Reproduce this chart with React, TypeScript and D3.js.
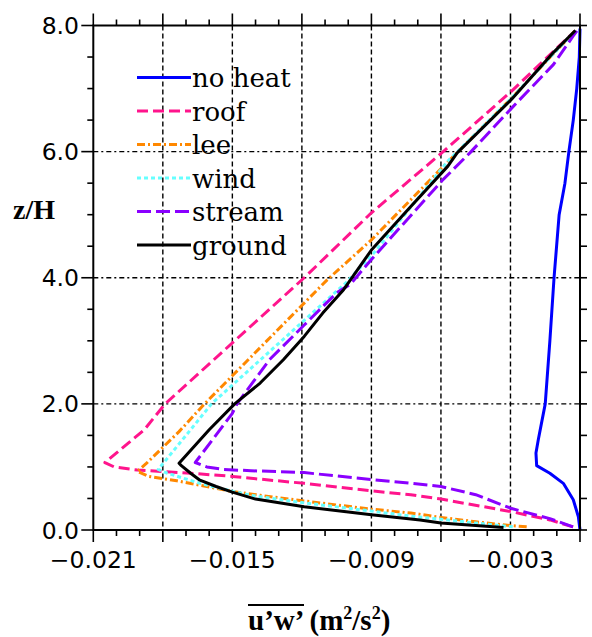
import React from 'react';
import * as d3 from 'd3';

// ---------- data (u'w' in m^2/s^2, z/H) ----------
const seriesNames = ['no heat', 'roof', 'lee', 'wind', 'stream', 'ground'];
const seriesColors = ['#0000ff', '#ff148c', '#ff8800', '#66ffff', '#8a00ff', '#000000'];
const seriesDash = ['', '11,5', '8,3,2,3', '4,3', '14,5', ''];

const xLabelValues = [-0.021, -0.015, -0.009, -0.003];
const xLabelTexts = ['\u22120.021', '\u22120.015', '\u22120.009', '\u22120.003'];
const yLabelValues = [0, 2, 4, 6, 8];
const yLabelTexts = ['0.0', '2.0', '4.0', '6.0', '8.0'];
const xGridValues = [-0.018, -0.015, -0.012, -0.009, -0.006, -0.003];
const yGridValues = [2, 4, 6];

const noHeat: [number, number][] = [
  [0, 0.0], [-0.00007, 0.21], [-0.00029, 0.48], [-0.00072, 0.74], [-0.0013, 0.9],
  [-0.00187, 1.02], [-0.0019, 1.22], [-0.0018, 1.43], [-0.0015, 2.0], [-0.0013, 3.0],
  [-0.00112, 4.0], [-0.0009, 5.0], [-0.00065, 5.5], [-0.00048, 6.0], [-0.00029, 6.5],
  [-0.00014, 7.0], [-0.00003, 7.5], [0, 7.95],
];
const roof: [number, number][] = [
  [-0.0003, 0.05], [-0.0013, 0.16], [-0.00295, 0.29], [-0.006, 0.49], [-0.0073, 0.56],
  [-0.009, 0.62], [-0.0119, 0.74], [-0.0142, 0.82], [-0.015, 0.85], [-0.0168, 0.9],
  [-0.0191, 0.95], [-0.0201, 1.0], [-0.0205, 1.07], [-0.0188, 1.59], [-0.0179, 2.0],
  [-0.0119, 4.0], [-0.009, 5.03], [-0.0059, 6.0], [-0.00295, 6.96], [-0.0002, 7.92],
];
const lee: [number, number][] = [
  [-0.0023, 0.05], [-0.003, 0.07], [-0.0045, 0.13], [-0.006, 0.2], [-0.0073, 0.27],
  [-0.009, 0.33], [-0.0119, 0.46], [-0.0138, 0.55], [-0.015, 0.61], [-0.0161, 0.69],
  [-0.0174, 0.78], [-0.0186, 0.85], [-0.0191, 0.93], [-0.0187, 1.06], [-0.0173, 1.56],
  [-0.0162, 2.0], [-0.0109, 3.97], [-0.009, 4.6], [-0.00575, 5.82], [-0.00295, 6.85],
  [-0.0002, 7.92],
];
const wind: [number, number][] = [
  [-0.0029, 0.05], [-0.0045, 0.11], [-0.006, 0.17], [-0.0073, 0.22], [-0.009, 0.3],
  [-0.0119, 0.43], [-0.0142, 0.55], [-0.0154, 0.65], [-0.0164, 0.74], [-0.0171, 0.82],
  [-0.0178, 0.9], [-0.0182, 0.96], [-0.0168, 1.59], [-0.0159, 2.0], [-0.0101, 3.92],
  [-0.0089, 4.39], [-0.0057, 5.85], [-0.00295, 6.85], [-0.0002, 7.92],
];
const stream: [number, number][] = [
  [-0.0003, 0.05], [-0.0013, 0.18], [-0.00295, 0.34], [-0.0045, 0.56], [-0.006, 0.69],
  [-0.0073, 0.74], [-0.009, 0.8], [-0.0119, 0.91], [-0.0142, 0.94], [-0.0154, 0.96],
  [-0.0161, 1.0], [-0.0166, 1.07], [-0.015, 1.85], [-0.0148, 2.0], [-0.0134, 2.7],
  [-0.0119, 3.25], [-0.0105, 3.76], [-0.0099, 3.9], [-0.009, 4.29], [-0.0059, 5.56],
  [-0.00475, 5.98], [-0.00295, 6.69], [-0.00115, 7.38], [-0.0003, 7.83], [-0.0001, 7.93],
];
const ground: [number, number][] = [
  [-0.0033, 0.04], [-0.0045, 0.07], [-0.006, 0.11], [-0.0069, 0.16], [-0.009, 0.24],
  [-0.0119, 0.37], [-0.014, 0.49], [-0.015, 0.6], [-0.0157, 0.69], [-0.0164, 0.79],
  [-0.0168, 0.9], [-0.0172, 1.02], [-0.0173, 1.06], [-0.016, 1.59], [-0.0149, 2.0],
  [-0.0138, 2.33], [-0.0128, 2.7], [-0.0119, 3.07], [-0.0111, 3.44], [-0.0102, 3.81],
  [-0.009, 4.44], [-0.0073, 5.13], [-0.0057, 5.77], [-0.0053, 5.98], [-0.00295, 6.83],
  [-0.00115, 7.57], [-0.0002, 7.92],
];
const seriesData = [noHeat, roof, lee, wind, stream, ground];

// ---------- layout ----------
const W = 592, H = 637;
const L = 93.3, R = 580, T = 25.5, B = 530;

export default function App() {
  const x = d3.scaleLinear().domain([-0.021, 0]).range([L, R]);
  const y = d3.scaleLinear().domain([0, 8]).range([B, T]);
  const line = d3.line<[number, number]>().x(d => x(d[0])).y(d => y(d[1]));

  const xMinor = d3.range(0, 22).map(i => -0.021 + i * 0.001);
  const yMinor = d3.range(0, 17).map(i => i * 0.5);
  const isXMajor = (v: number) => Math.abs(Math.round(v * 1000) % 3) === 0;
  const isYMajor = (v: number) => Math.abs(v % 2) < 1e-9;

  const legX0 = 137, legX1 = 191, legY0 = 77.5, legDY = 33.5;

  return (
    <svg width={W} height={H} style={{ position: 'absolute', left: 0, top: 0, background: '#fff' }}>
      {/* gridlines */}
      {xGridValues.map((v, i) => (
        <line key={'gx' + i} x1={x(v)} x2={x(v)} y1={T} y2={B} stroke="#000" strokeWidth={1.4} strokeDasharray="5,3" />
      ))}
      {yGridValues.map((v, i) => (
        <line key={'gy' + i} x1={L} x2={R} y1={y(v)} y2={y(v)} stroke="#000" strokeWidth={1.4} strokeDasharray="5,3,2,3" />
      ))}

      {/* curves */}
      {seriesData.map((d, i) => (
        <path key={'s' + i} d={line(d) || ''} fill="none" stroke={seriesColors[i]} strokeWidth={3}
          strokeDasharray={seriesDash[i] || undefined} strokeLinejoin="round" />
      ))}

      {/* frame */}
      <rect x={L} y={T} width={R - L} height={B - T} fill="none" stroke="#000" strokeWidth={2} />

      {/* x ticks (top & bottom, outward) */}
      {xMinor.map((v, i) => {
        const len = isXMajor(v) ? 12 : 6;
        return (
          <g key={'xt' + i}>
            <line x1={x(v)} x2={x(v)} y1={B} y2={B + len} stroke="#000" strokeWidth={1.6} />
            <line x1={x(v)} x2={x(v)} y1={T} y2={T - len} stroke="#000" strokeWidth={1.6} />
          </g>
        );
      })}
      {/* y ticks (left & right, outward) */}
      {yMinor.map((v, i) => {
        const len = isYMajor(v) ? 12 : 6;
        return (
          <g key={'yt' + i}>
            <line x1={L} x2={L - len} y1={y(v)} y2={y(v)} stroke="#000" strokeWidth={1.6} />
            <line x1={R} x2={R + 7} y1={y(v)} y2={y(v)} stroke="#000" strokeWidth={1.6} />
          </g>
        );
      })}

      {/* tick labels */}
      {xLabelValues.map((v, i) => (
        <text key={'xl' + i} x={x(v)} y={568} textAnchor="middle" fontFamily="DejaVu Sans" fontSize={23.5} fill="#000">
          {xLabelTexts[i]}
        </text>
      ))}
      {yLabelValues.map((v, i) => (
        <text key={'yl' + i} x={79} y={y(v) + 8.5} textAnchor="end" fontFamily="DejaVu Sans" fontSize={23.5} fill="#000">
          {yLabelTexts[i]}
        </text>
      ))}

      {/* legend */}
      {seriesNames.map((n, i) => (
        <g key={'lg' + i}>
          <line x1={legX0} x2={legX1} y1={legY0 + i * legDY} y2={legY0 + i * legDY} stroke={seriesColors[i]}
            strokeWidth={3} strokeDasharray={seriesDash[i] || undefined} />
          <text x={legX1 + 1} y={legY0 + i * legDY + 9.5} fontFamily="DejaVu Serif" fontSize={26} fill="#000">{n}</text>
        </g>
      ))}

      {/* axis titles */}
      <text x={13} y={219} fontFamily="Liberation Serif" fontWeight="bold" fontSize={28} fill="#000">z/H</text>
      <text x={248} y={630} fontFamily="Liberation Serif" fontWeight="bold" fontSize={29} fill="#000">
        u’w’ (m<tspan fontSize={18} dy={-11}>2</tspan><tspan dy={11}>/s</tspan><tspan fontSize={18} dy={-11}>2</tspan><tspan dy={11}>)</tspan>
      </text>
      <line x1={248} x2={304} y1={605} y2={605} stroke="#000" strokeWidth={2} />
    </svg>
  );
}
